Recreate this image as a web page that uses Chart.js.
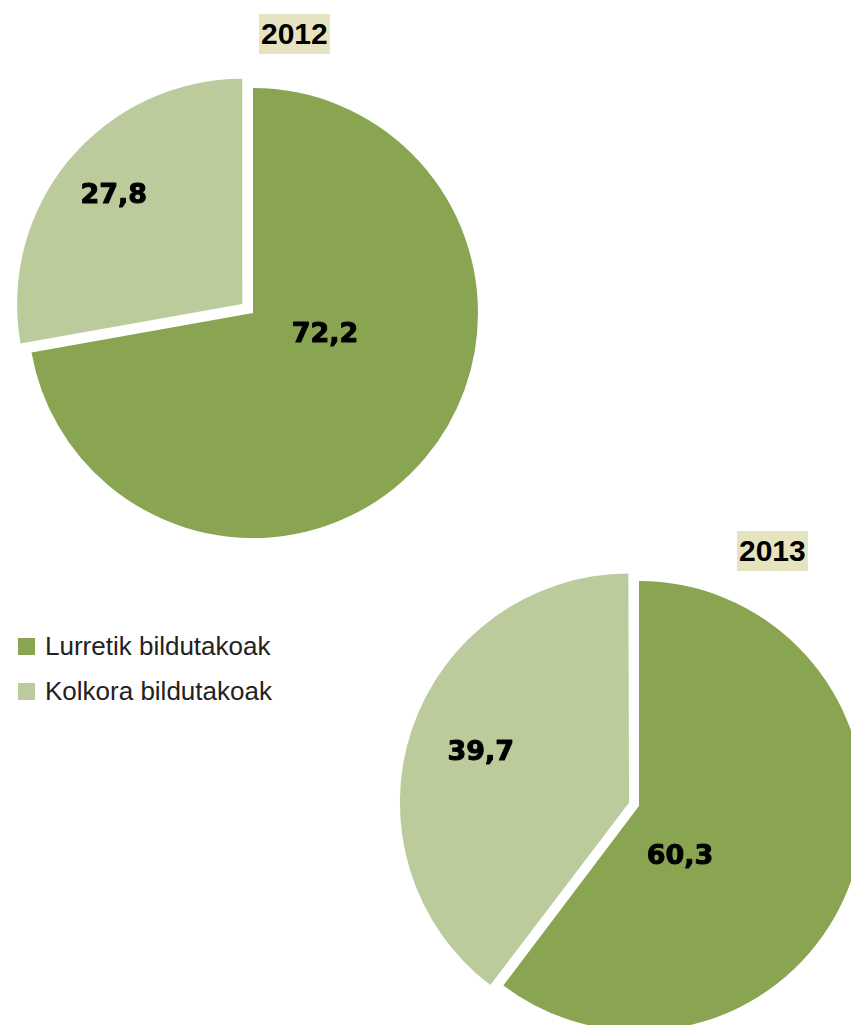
<!DOCTYPE html>
<html>
<head>
<meta charset="utf-8">
<script src="https://cdn.jsdelivr.net/npm/chart.js@4.4.1/dist/chart.umd.min.js"></script>
<style>
  html, body { margin: 0; padding: 0; background: #fff; width: 851px; height: 1025px; overflow: hidden; position: relative; }
  canvas { position: absolute; left: 0; top: 0; }
  .yr { position: absolute; background: #e6e4c0; font-family: "Liberation Sans", Arial, sans-serif; font-weight: bold; font-size: 30px; line-height: 40px; color: #000; padding: 0 2px; }
  .legend { position: absolute; left: 18px; top: 624px; font-family: "Liberation Sans", Arial, sans-serif; font-size: 26px; color: #222; }
  .legend div { height: 45px; display: flex; align-items: center; }
  .legend span.sw { display: inline-block; width: 17px; height: 17px; margin-right: 10px; }
</style>
</head>
<body>
<div class="yr" style="left:259px; top:14px;">2012</div>
<div class="yr" style="left:737px; top:531px;">2013</div>
<div class="legend" id="legend"></div>
<canvas id="c1" width="851" height="1025"></canvas>
<canvas id="c2" width="851" height="1025"></canvas>
<script>
// ---- data ----
const categories = ["Lurretik bildutakoak", "Kolkora bildutakoak"];
const years = ["2012", "2013"];
const values2012 = [72.2, 27.8];
const values2013 = [60.3, 39.7];

// ---- styles ----
const colors = ["#8aa552", "#bccb9b"];

// legend
const lg = document.getElementById('legend');
categories.forEach((c, i) => {
  const d = document.createElement('div');
  d.innerHTML = '<span class="sw" style="background:' + colors[i] + '"></span>' + c;
  lg.appendChild(d);
});

// label placement: angle (deg, clockwise from top) and radius fraction
const labelPlugin = {
  id: 'sliceLabels',
  afterDatasetsDraw(chart, args, opts) {
    const ctx = chart.ctx;
    const meta = chart.getDatasetMeta(0);
    const ds = chart.data.datasets[0];
    ctx.save();
    ctx.font = 'bold 27px "DejaVu Sans", sans-serif';
    ctx.fillStyle = '#000';
    ctx.strokeStyle = '#000';
    ctx.lineWidth = 1;
    ctx.lineJoin = 'round';
    ctx.textAlign = 'center';
    ctx.textBaseline = 'middle';
    meta.data.forEach((arc, i) => {
      const p = opts.place[i];
      const mid = (arc.startAngle + arc.endAngle) / 2;
      const ang = p.angle !== undefined ? (p.angle - 90) * Math.PI / 180 : mid;
      const off = ((ds.offset && ds.offset[i]) || 0) / 4; // Chart.js draws offset/4
      const x = arc.x + Math.cos(mid) * off + Math.cos(ang) * arc.outerRadius * p.r;
      const y = arc.y + Math.sin(mid) * off + Math.sin(ang) * arc.outerRadius * p.r;
      const v = ds.data[i].toFixed(1).replace('.', ',');
      ctx.strokeText(v, x, y);
      ctx.fillText(v, x, y);
    });
    ctx.restore();
  }
};

function makePie(id, values, offsets, padding, place) {
  return new Chart(document.getElementById(id), {
    type: 'pie',
    data: {
      labels: categories,
      datasets: [{
        data: values,
        backgroundColor: colors,
        borderWidth: 0,
        offset: offsets,
        radius: 225
      }]
    },
    options: {
      responsive: false,
      animation: false,
      layout: { padding: padding },
      plugins: {
        legend: { display: false },
        tooltip: { enabled: false },
        sliceLabels: { place: place }
      }
    },
    plugins: [labelPlugin]
  });
}

makePie('c1', values2012, [0, 56],
  { left: 0, top: 0, right: 851 - 506, bottom: 1025 - 626 },
  [{ angle: 107, r: 0.335 }, { r: 0.745 }]);

makePie('c2', values2013, [0, 42],
  { left: 427, top: 587, right: 0, bottom: 0 },
  [{ angle: 141, r: 0.29 }, { r: 0.695 }]);
</script>
</body>
</html>
